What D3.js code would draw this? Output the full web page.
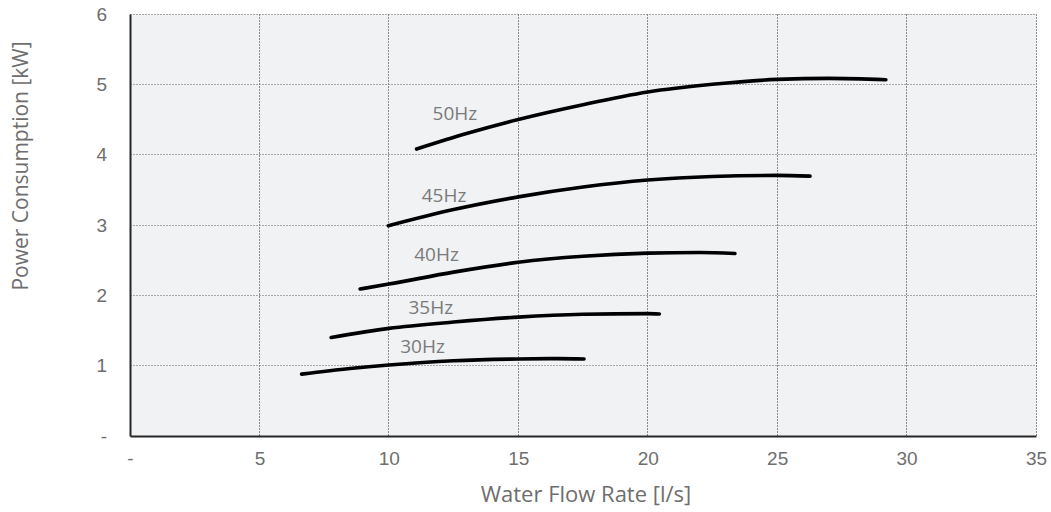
<!DOCTYPE html>
<html><head><meta charset="utf-8">
<script src="https://cdn.jsdelivr.net/npm/d3@7"></script>
<style>body{margin:0;background:#fff;}svg{display:block;}</style>
</head><body>
<svg id="chart" width="1051" height="512"></svg>
<script>
const seriesNames = ["50Hz","45Hz","40Hz","35Hz","30Hz"];
const flow50 = [11.07, 13, 15, 17.5, 20, 22.5, 25, 27, 29.2];
const power50 = [4.08, 4.30, 4.50, 4.71, 4.89, 5.00, 5.07, 5.085, 5.065];
const flow45 = [9.98, 12.5, 15, 17.5, 20, 22.5, 25, 26.27];
const power45 = [2.99, 3.22, 3.40, 3.54, 3.64, 3.69, 3.705, 3.695];
const flow40 = [8.89, 10, 12.5, 15, 17.5, 20, 22, 23.37];
const power40 = [2.09, 2.16, 2.33, 2.47, 2.555, 2.60, 2.61, 2.595];
const flow35 = [7.77, 10, 12.5, 15, 17.5, 20, 20.45];
const power35 = [1.40, 1.53, 1.62, 1.69, 1.73, 1.74, 1.735];
const flow30 = [6.63, 8.5, 10, 12.5, 15, 16.5, 17.54];
const power30 = [0.88, 0.96, 1.01, 1.07, 1.095, 1.10, 1.095];
const labelFlow = [12.55, 12.13, 11.84, 11.62, 11.3];
const labelPower = [4.59, 3.43, 2.58, 1.83, 1.28];
const xTicks = [0,5,10,15,20,25,30,35];
const yTicks = [0,1,2,3,4,5,6];
const xTitle = "Water Flow Rate [l/s]";
const yTitle = "Power Consumption [kW]";

const flows = [flow50, flow45, flow40, flow35, flow30];
const powers = [power50, power45, power40, power35, power30];

const svg = d3.select("#chart");
const x = d3.scaleLinear().domain([0,35]).range([130,1036]);
const y = d3.scaleLinear().domain([0,6]).range([436,14]);
const font = "'Open Sans', sans-serif";
const tickFont = "'Liberation Sans', Arial, sans-serif";
const grey = "#6e6e6e";

svg.append("rect").attr("x", x(0)).attr("y", y(6)).attr("width", x(35)-x(0)).attr("height", y(0)-y(6)).attr("fill", "#f1f2f4");

// grid
svg.append("g").selectAll("line").data(yTicks.filter(d=>d>0)).join("line")
  .attr("x1", x(0)).attr("x2", x(35)).attr("y1", d=>y(d)).attr("y2", d=>y(d))
  .attr("stroke", "#a8a8a8").attr("stroke-width", 1).attr("stroke-dasharray", "2,1").attr("shape-rendering","crispEdges");
svg.append("g").selectAll("line").data(xTicks.filter(d=>d>0)).join("line")
  .attr("y1", y(0)).attr("y2", y(6)).attr("x1", d=>x(d)).attr("x2", d=>x(d))
  .attr("stroke", "#8a8a8a").attr("stroke-width", 1).attr("stroke-dasharray", "2,1").attr("shape-rendering","crispEdges");

const fmt = d => d===0 ? "-" : String(d);
const xAxis = svg.append("g").attr("transform", `translate(0,${y(0)})`)
  .call(d3.axisBottom(x).tickValues(xTicks).tickFormat(fmt).tickSize(0).tickPadding(16));
const yAxis = svg.append("g").attr("transform", `translate(${x(0)},0)`)
  .call(d3.axisLeft(y).tickValues(yTicks).tickFormat(fmt).tickSize(0).tickPadding(23));
[xAxis, yAxis].forEach(a => {
  a.select(".domain").attr("stroke", "#262626").attr("stroke-width", 2);
  a.selectAll("text").attr("fill", grey).style("font-family", tickFont).style("font-size", "19px");
});

const line = d3.line().x(d=>x(d[0])).y(d=>y(d[1])).curve(d3.curveMonotoneX);
flows.forEach((f, i) => {
  svg.append("path").datum(f.map((v,j)=>[v, powers[i][j]]))
    .attr("d", line).attr("fill","none").attr("stroke","#000").attr("stroke-width",3.6).attr("stroke-linecap","round");
  svg.append("text").attr("x", x(labelFlow[i])).attr("y", y(labelPower[i])).attr("dy","0.36em")
    .attr("text-anchor","middle").attr("fill","#7a7a7a").style("font-family",font).style("font-size","19px")
    .text(seriesNames[i]);
});

svg.append("text").attr("x", 586).attr("y", 502).attr("text-anchor","middle")
  .attr("fill", grey).style("font-family",font).style("font-size","22px").text(xTitle);
svg.append("text").attr("transform", `translate(28,166) rotate(-90)`).attr("text-anchor","middle")
  .attr("fill", grey).style("font-family",font).style("font-size","21px").text(yTitle);
</script>
</body></html>
